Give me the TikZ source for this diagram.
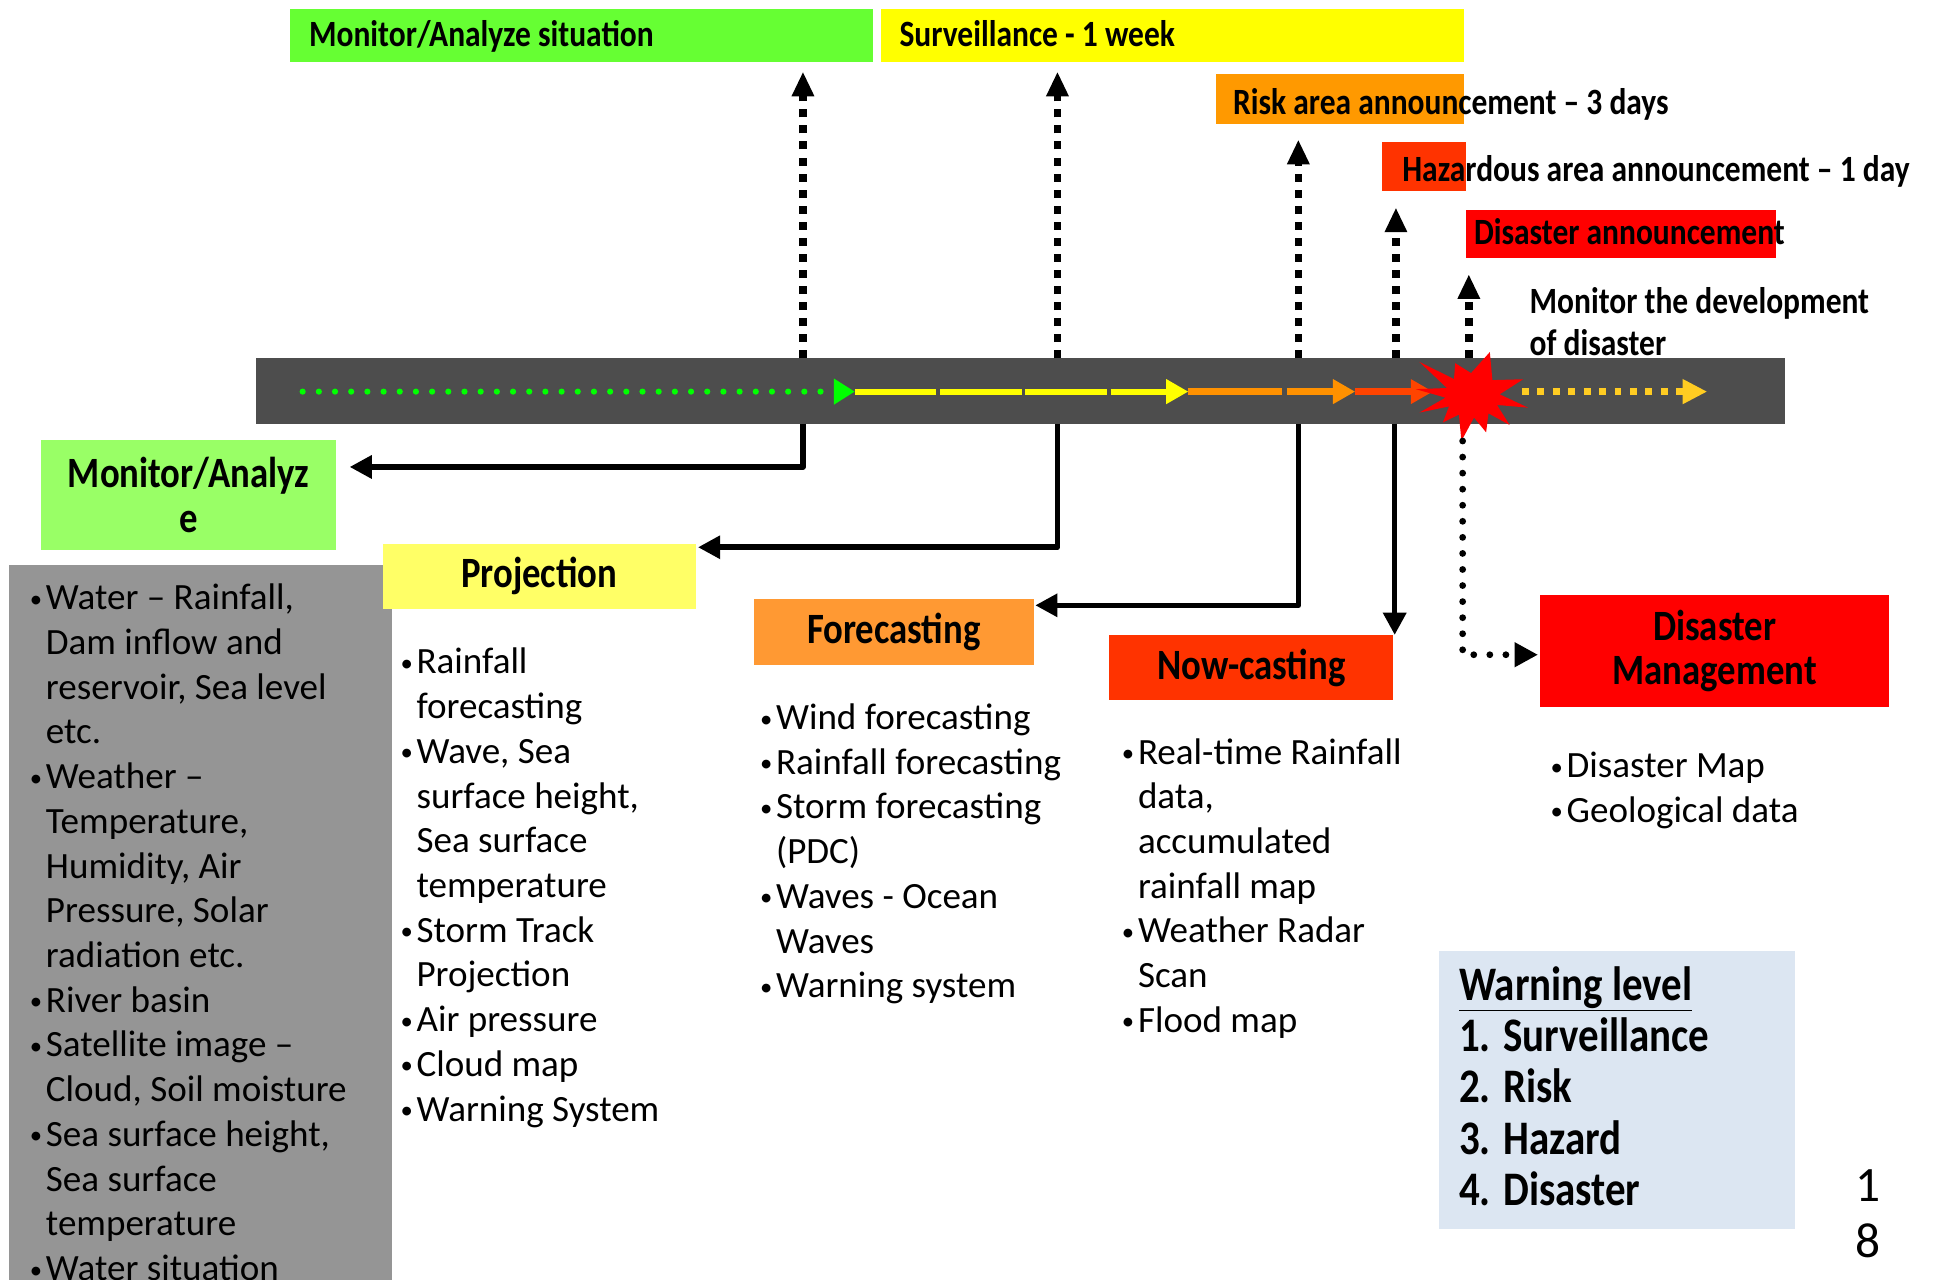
\documentclass[tikz,border=0pt]{standalone}
\usepackage{fontspec}
\setmainfont{Carlito}
\newfontfamily\hdfont{Carlito}[FakeStretch=0.85]
\usetikzlibrary{arrows.meta}
\definecolor{cTopGreen}{HTML}{66FF33}
\definecolor{cTopYellow}{HTML}{FFFF00}
\definecolor{cRisk}{HTML}{FF9900}
\definecolor{cHaz}{HTML}{FF3300}
\definecolor{cDis}{HTML}{FF0000}
\definecolor{cBar}{HTML}{4D4D4D}
\definecolor{cMA}{HTML}{99FF66}
\definecolor{cProj}{HTML}{FFFF66}
\definecolor{cFore}{HTML}{FF9933}
\definecolor{cNow}{HTML}{FF3300}
\definecolor{cDM}{HTML}{FF0000}
\definecolor{cWarn}{HTML}{DCE6F2}
\definecolor{cData}{HTML}{959595}
\definecolor{cGreenDot}{HTML}{00FF00}
\definecolor{cYel}{HTML}{FFFF00}
\definecolor{cOr}{HTML}{FF9100}
\definecolor{cRO}{HTML}{FF4400}
\definecolor{cGold}{HTML}{FFCC22}
\newcommand\bl{\llap{\raisebox{2pt}{\fontsize{20}{20}\selectfont •}\hspace{3pt}}}
\begin{document}
\begin{tikzpicture}[x=1pt,y=-1pt,
  box/.style={rectangle, draw=none, inner sep=0pt, outer sep=0pt},
  hdA/.style={font=\hdfont\bfseries\fontsize{30}{34}\selectfont, inner sep=0pt, anchor=base west},
  hdB/.style={font=\hdfont\bfseries\fontsize{35}{36}\selectfont, align=center},
  body/.style={font=\fontsize{30}{36.2}\selectfont, align=left, anchor=north west, inner sep=0pt},
  dotup/.style={black, line width=6pt, dash pattern=on 6.5pt off 6.5pt, -{Triangle[length=20pt,width=17pt]}},
  solidar/.style={black, line width=4.5pt, line join=round, -{Triangle[length=18pt,width=18pt]}},
  rounddot/.style={black, line width=5.5pt, line cap=round, dash pattern=on 0pt off 13pt, -{Triangle[length=19pt,width=19pt]}},
]
\useasboundingbox (0,0) rectangle (1568,1036);

% top announcement boxes
\node[box, fill=cTopGreen, minimum width=472pt, minimum height=43pt, anchor=north west] (mas) at (235,7) {};
\node[hdA] (mast) at (250,38) {Monitor/Analyze situation};
\node[box, fill=cTopYellow, minimum width=472pt, minimum height=43pt, anchor=north west] (sur) at (713,7) {};
\node[hdA] (surt) at (728,38) {Surveillance - 1 week};
\node[box, fill=cRisk, minimum width=201pt, minimum height=40pt, anchor=north west] (risk) at (984,60) {};
\node[hdA] (riskt) at (998,93) {Risk area announcement – 3 days};
\node[box, fill=cHaz, minimum width=68pt, minimum height=40pt, anchor=north west] (haz) at (1119,115) {};
\node[hdA] (hazt) at (1135,147) {Hazardous area announcement – 1 day};
\node[box, fill=cDis, minimum width=251pt, minimum height=39pt, anchor=north west] (dis) at (1187,170) {};
\node[hdA] (dist) at (1193,198) {Disaster announcement};
\node[font=\hdfont\bfseries\fontsize{30}{34}\selectfont, align=left, anchor=north west, inner sep=0pt] (mdev) at (1238,230) {\strut Monitor the development\\of disaster};

% timeline bar
\node[box, fill=cBar, minimum width=1238pt, minimum height=53pt, anchor=north west] (bar) at (207,290) {};
\coordinate (g0) at (245,317);
\coordinate (g1) at (692,317);
\coordinate (y1) at (962,317);
\coordinate (o1) at (1097,317);
\coordinate (r1) at (1160,317);
\coordinate (d0) at (1232,317);
\coordinate (d1) at (1382,317);
\draw[cGreenDot, line width=5pt, line cap=round, dash pattern=on 0pt off 13.1pt, -{Triangle[length=17pt,width=20pt]}] (g0) -- (g1);
\draw[cYel, line width=5pt, dash pattern=on 66pt off 3pt, -{Triangle[length=18pt,width=19pt]}] (g1) -- (y1);
\draw[cOr, line width=6pt, dash pattern=on 76pt off 4pt, -{Triangle[length=18pt,width=19pt]}] (y1) -- (o1);
\draw[cRO, line width=6pt, -{Triangle[length=18pt,width=19pt]}] (o1) -- (r1);
\draw[cGold, line width=6pt, dash pattern=on 5.5pt off 7pt, -{Triangle[length=20pt,width=19pt]}] (d0) -- (d1);

% dotted up arrows to announcements
\coordinate (u1) at (650,58);
\coordinate (u2) at (856,58);
\coordinate (u3) at (1051,113);
\coordinate (u4) at (1130,168);
\coordinate (u5) at (1189,222);
\draw[dotup] (bar.north -| u1) -- (u1);
\draw[dotup] (bar.north -| u2) -- (u2);
\draw[dotup] (bar.north -| u3) -- (u3);
\draw[dotup] (bar.north -| u4) -- (u4);
\draw[dotup] (bar.north -| u5) -- (u5);

% disaster starburst
\fill[cDis] (1206,285) -- (1208.1,307.7) -- (1233,307) -- (1214,319.2) -- (1237,330) -- (1211.8,327.8)
  -- (1222,344) -- (1204.9,334.6) -- (1203,350) -- (1193.2,338) -- (1183,357) -- (1181,335.6)
  -- (1168,342) -- (1173,329) -- (1149,334) -- (1170.1,321.9) -- (1146,315) -- (1171.2,314.1)
  -- (1149,293) -- (1177,306.8) -- (1178,294) -- (1190.8,302) -- cycle;
\coordinate (burstbot) at (1184,357);

% activity boxes
\node[box, fill=cMA, minimum width=239pt, minimum height=89pt, hdB] (ma) at (152.5,400.5) {Monitor/Analyz\\e};
\node[box, fill=cData, minimum width=310pt, minimum height=590pt, anchor=north west] (data) at (7,457) {};
\node[box, fill=cProj, minimum width=253pt, minimum height=53pt, hdB] (proj) at (436.5,466.5) {Projection};
\node[box, fill=cFore, minimum width=227pt, minimum height=53pt, hdB] (fore) at (723.5,511.5) {Forecasting};
\node[box, fill=cNow, minimum width=230pt, minimum height=53pt, hdB] (now) at (1013,540.5) {Now-casting};
\node[box, fill=cDM, minimum width=282pt, minimum height=90pt, hdB] (dm) at (1388,527) {Disaster\\Management};

% solid arrows down to activities
\coordinate (k1) at (650,378);
\coordinate (k2) at (856,443);
\coordinate (k3) at (1051,490);
\coordinate (k4) at (1129,490);
\coordinate (k5) at (1184,530);
\draw[solidar, shorten >=11pt] (bar.south -| k1) -- (k1) -- (k1 -| ma.east);
\draw[solidar, shorten >=2pt] (bar.south -| k2) -- (k2) -- (k2 -| proj.east);
\draw[solidar, shorten >=1pt] (bar.south -| k3) -- (k3) -- (k3 -| fore.east);
\draw[solidar] (bar.south -| k4) -- (k4 |- now.north);
\draw[rounddot, shorten >=2pt] (burstbot) -- (k5) -- (k5 -| dm.west);

% lists
\node[body] (datal) at (37,468) {\strut\bl Water – Rainfall,\\Dam inflow and\\reservoir, Sea level\\etc.\\\bl Weather –\\Temperature,\\Humidity, Air\\Pressure, Solar\\radiation etc.\\\bl River basin\\\bl Satellite image –\\Cloud, Soil moisture\\\bl Sea surface height,\\Sea surface\\temperature\\\bl Water situation};
\node[body] (projl) at (337,520) {\strut\bl Rainfall\\forecasting\\\bl Wave, Sea\\surface height,\\Sea surface\\temperature\\\bl Storm Track\\Projection\\\bl Air pressure\\\bl Cloud map\\\bl Warning System};
\node[body] (forel) at (628,565) {\strut\bl Wind forecasting\\\bl Rainfall forecasting\\\bl Storm forecasting\\(PDC)\\\bl Waves - Ocean\\Waves\\\bl Warning system};
\node[body] (nowl) at (921,593) {\strut\bl Real-time Rainfall\\data,\\accumulated\\rainfall map\\\bl Weather Radar\\Scan\\\bl Flood map};
\node[body] (dml) at (1268,604) {\strut\bl Disaster Map\\\bl Geological data};

% warning level legend
\node[box, fill=cWarn, minimum width=288pt, minimum height=225pt, anchor=north west] (warn) at (1165,770) {};
\node[font=\hdfont\bfseries\fontsize{39}{41.5}\selectfont, align=left, anchor=north west, inner sep=0pt] (warnt) at (1181,780.5) {\strut\underline{Warning level}\\1. Surveillance\\2. Risk\\3. Hazard\\4. Disaster};

% page number
\node[font=\fontsize{40}{45}\selectfont, align=center, anchor=north, inner sep=0pt] (pg) at (1512,941) {\strut 1\\8};
\end{tikzpicture}
\end{document}
